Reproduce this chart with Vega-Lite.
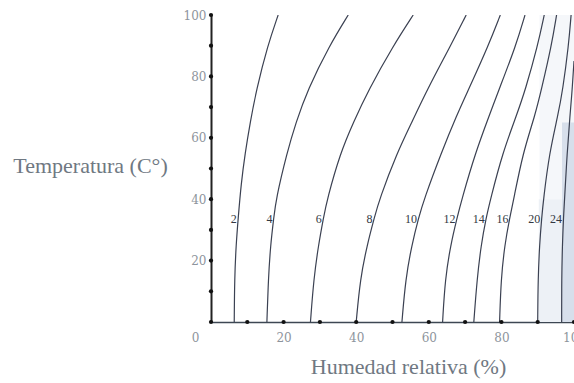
{
  "$schema": "https://vega.github.io/schema/vega-lite/v6.json",
  "width": 363,
  "height": 307,
  "autosize": {"type": "none"},
  "padding": {"left": 211, "top": 15, "right": 0, "bottom": 61},
  "background": "#ffffff",
  "config": {"view": {"stroke": null}},
  "datasets": {
    "curves": [
      {"line": "2", "T": 0, "rh": 6.4}, {"line": "2", "T": 14, "rh": 6.5}, {"line": "2", "T": 25, "rh": 6.9}, {"line": "2", "T": 34, "rh": 7.5}, {"line": "2", "T": 45, "rh": 8.3}, {"line": "2", "T": 55, "rh": 9.4}, {"line": "2", "T": 65, "rh": 10.8}, {"line": "2", "T": 75.6, "rh": 12.5}, {"line": "2", "T": 90, "rh": 15.6}, {"line": "2", "T": 100, "rh": 18.5},
      {"line": "4", "T": 0, "rh": 15.4}, {"line": "4", "T": 14, "rh": 15.8}, {"line": "4", "T": 25, "rh": 16.4}, {"line": "4", "T": 34, "rh": 17.3}, {"line": "4", "T": 40, "rh": 17.9}, {"line": "4", "T": 55, "rh": 20.9}, {"line": "4", "T": 65, "rh": 23.4}, {"line": "4", "T": 75.6, "rh": 26.6}, {"line": "4", "T": 90, "rh": 32.6}, {"line": "4", "T": 100, "rh": 37.8},
      {"line": "6", "T": 0, "rh": 27.4}, {"line": "6", "T": 14, "rh": 28.3}, {"line": "6", "T": 25, "rh": 29.6}, {"line": "6", "T": 34, "rh": 31.0}, {"line": "6", "T": 40, "rh": 32.0}, {"line": "6", "T": 55, "rh": 35.6}, {"line": "6", "T": 65, "rh": 39.2}, {"line": "6", "T": 75.6, "rh": 43.4}, {"line": "6", "T": 90, "rh": 50.2}, {"line": "6", "T": 100, "rh": 55.7},
      {"line": "8", "T": 0, "rh": 40.0}, {"line": "8", "T": 14, "rh": 41.1}, {"line": "8", "T": 25, "rh": 43.0}, {"line": "8", "T": 34, "rh": 45.0}, {"line": "8", "T": 40, "rh": 46.4}, {"line": "8", "T": 55, "rh": 51.2}, {"line": "8", "T": 65, "rh": 55.3}, {"line": "8", "T": 75.6, "rh": 59.5}, {"line": "8", "T": 90, "rh": 66.0}, {"line": "8", "T": 100, "rh": 70.3},
      {"line": "10", "T": 0, "rh": 52.6}, {"line": "10", "T": 14, "rh": 53.6}, {"line": "10", "T": 25, "rh": 55.3}, {"line": "10", "T": 34, "rh": 57.2}, {"line": "10", "T": 40, "rh": 58.7}, {"line": "10", "T": 55, "rh": 63.4}, {"line": "10", "T": 67.4, "rh": 67.7}, {"line": "10", "T": 75.6, "rh": 70.9}, {"line": "10", "T": 90, "rh": 76.4}, {"line": "10", "T": 100, "rh": 79.7},
      {"line": "12", "T": 0, "rh": 63.8}, {"line": "12", "T": 14, "rh": 64.5}, {"line": "12", "T": 25, "rh": 66.0}, {"line": "12", "T": 34, "rh": 67.8}, {"line": "12", "T": 40, "rh": 69.1}, {"line": "12", "T": 55, "rh": 72.8}, {"line": "12", "T": 67.4, "rh": 76.7}, {"line": "12", "T": 75.6, "rh": 79.3}, {"line": "12", "T": 90, "rh": 84.0}, {"line": "12", "T": 100, "rh": 86.5},
      {"line": "14", "T": 0, "rh": 72.4}, {"line": "14", "T": 14, "rh": 73.3}, {"line": "14", "T": 25, "rh": 74.4}, {"line": "14", "T": 34, "rh": 75.8}, {"line": "14", "T": 40, "rh": 77.0}, {"line": "14", "T": 55, "rh": 80.3}, {"line": "14", "T": 67.4, "rh": 84.2}, {"line": "14", "T": 75.6, "rh": 86.6}, {"line": "14", "T": 90, "rh": 90.0}, {"line": "14", "T": 100, "rh": 91.8},
      {"line": "16", "T": 0, "rh": 79.5}, {"line": "16", "T": 14, "rh": 79.9}, {"line": "16", "T": 25, "rh": 80.9}, {"line": "16", "T": 34, "rh": 82.3}, {"line": "16", "T": 40, "rh": 83.4}, {"line": "16", "T": 55, "rh": 85.9}, {"line": "16", "T": 67.4, "rh": 89.3}, {"line": "16", "T": 75.6, "rh": 91.0}, {"line": "16", "T": 90, "rh": 93.8}, {"line": "16", "T": 100, "rh": 95.2},
      {"line": "20", "T": 0, "rh": 90.0}, {"line": "20", "T": 14, "rh": 90.1}, {"line": "20", "T": 25, "rh": 90.5}, {"line": "20", "T": 34, "rh": 91.1}, {"line": "20", "T": 40, "rh": 91.6}, {"line": "20", "T": 55, "rh": 93.2}, {"line": "20", "T": 67.4, "rh": 95.6}, {"line": "20", "T": 75.6, "rh": 96.9}, {"line": "20", "T": 90, "rh": 98.5}, {"line": "20", "T": 100, "rh": 99.2},
      {"line": "24", "T": 0, "rh": 96.6}, {"line": "24", "T": 14, "rh": 96.6}, {"line": "24", "T": 25, "rh": 96.8}, {"line": "24", "T": 34, "rh": 97.1}, {"line": "24", "T": 40, "rh": 97.4}, {"line": "24", "T": 55, "rh": 98.1}, {"line": "24", "T": 67.4, "rh": 98.9}, {"line": "24", "T": 75.6, "rh": 99.5}, {"line": "24", "T": 85, "rh": 100}
    ],
    "labels": [
      {"line": "2", "T": 33.5, "rh": 7.4}, {"line": "4", "T": 33.5, "rh": 17.2}, {"line": "6", "T": 33.5, "rh": 30.8}, {"line": "8", "T": 33.5, "rh": 44.8}, {"line": "10", "T": 33.5, "rh": 57.0},
      {"line": "12", "T": 33.5, "rh": 67.6}, {"line": "14", "T": 33.5, "rh": 75.7}, {"line": "16", "T": 33.5, "rh": 82.2}, {"line": "20", "T": 33.5, "rh": 91.0}, {"line": "24", "T": 33.5, "rh": 97.0}
    ],
    "zones": [
      {"zone": "faint", "rh": 90.5, "rh2": 100, "T": 40, "T2": 100},
      {"zone": "light", "rh": 90.3, "rh2": 100, "T": 0, "T2": 40},
      {"zone": "dark", "rh": 96.7, "rh2": 100, "T": 0, "T2": 65}
    ],
    "dots": [
      {"rh": 0, "T": 0}, {"rh": 10, "T": 0}, {"rh": 20, "T": 0}, {"rh": 30, "T": 0}, {"rh": 40, "T": 0}, {"rh": 50, "T": 0}, {"rh": 60, "T": 0}, {"rh": 70, "T": 0}, {"rh": 80, "T": 0}, {"rh": 90, "T": 0}, {"rh": 100, "T": 0},
      {"rh": 0, "T": 10}, {"rh": 0, "T": 20}, {"rh": 0, "T": 30}, {"rh": 0, "T": 40}, {"rh": 0, "T": 50}, {"rh": 0, "T": 60}, {"rh": 0, "T": 70}, {"rh": 0, "T": 80}, {"rh": 0, "T": 90}, {"rh": 0, "T": 100}
    ]
  },
  "layer": [
    {
      "data": {"name": "zones"},
      "mark": {"type": "rect"},
      "encoding": {
        "x": {"field": "rh", "type": "quantitative", "scale": {"domain": [0, 100]},
          "axis": {"values": [0, 20, 40, 60, 80, 100], "title": "Humedad relativa (%)", "grid": false, "ticks": false,
            "domainColor": "#3d4753", "domainWidth": 1.5,
            "labelFont": "DejaVu Serif", "labelFontSize": 12, "labelColor": "#8d949c", "labelPadding": 10,
            "labelOffset": {"condition": {"test": "datum.value === 0", "value": -16}, "value": 0},
            "labelFlush": false, "labelOverlap": false,
            "titleFont": "Liberation Serif", "titleFontSize": 22, "titleFontWeight": "normal", "titleColor": "#6f7882",
            "titleX": 197, "titleY": 51, "titleAlign": "center", "titleBaseline": "alphabetic"}},
        "x2": {"field": "rh2"},
        "y": {"field": "T", "type": "quantitative", "scale": {"domain": [0, 100]},
          "axis": {"values": [20, 40, 60, 80, 100], "title": "Temperatura (C°)", "grid": false, "ticks": false,
            "domainColor": "#222222", "domainWidth": 2,
            "labelFont": "DejaVu Serif", "labelFontSize": 12, "labelColor": "#8d949c", "labelPadding": 5,
            "titleFont": "Liberation Serif", "titleFontSize": 22, "titleFontWeight": "normal", "titleColor": "#6f7882",
            "titleAngle": 0, "titleX": -121, "titleY": 157, "titleAlign": "center", "titleBaseline": "alphabetic"}},
        "y2": {"field": "T2"},
        "color": {"field": "zone", "type": "nominal", "legend": null,
          "scale": {"domain": ["faint", "light", "dark"], "range": ["#f5f7fa", "#edf1f6", "#d7dfeb"]}}
      }
    },
    {
      "mark": {"type": "rule", "color": "#9aa9ba", "strokeWidth": 1.2},
      "encoding": {"y": {"datum": 100, "type": "quantitative"}}
    },
    {
      "data": {"name": "curves"},
      "mark": {"type": "line", "interpolate": "basis", "color": "#3b4152", "strokeWidth": 1.2, "clip": true},
      "encoding": {
        "x": {"field": "rh", "type": "quantitative"},
        "y": {"field": "T", "type": "quantitative"},
        "detail": {"field": "line", "type": "nominal"},
        "order": {"field": "T", "type": "quantitative"}
      }
    },
    {
      "data": {"name": "labels"},
      "mark": {"type": "text", "align": "right", "baseline": "middle", "dx": -1, "font": "Liberation Serif", "fontSize": 12, "color": "#333842"},
      "encoding": {
        "x": {"field": "rh", "type": "quantitative"},
        "y": {"field": "T", "type": "quantitative"},
        "text": {"field": "line", "type": "nominal"}
      }
    },
    {
      "data": {"name": "dots"},
      "mark": {"type": "point", "filled": true, "color": "#111111", "size": 18, "opacity": 1},
      "encoding": {
        "x": {"field": "rh", "type": "quantitative"},
        "y": {"field": "T", "type": "quantitative"}
      }
    }
  ]
}
